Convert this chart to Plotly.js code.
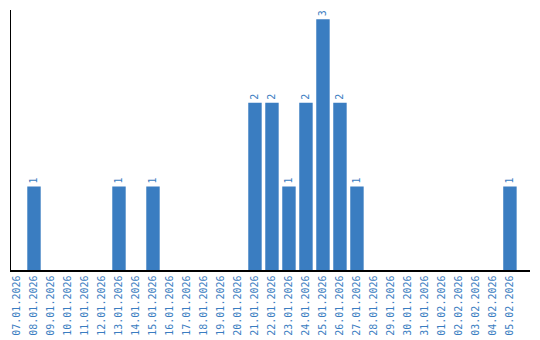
<!DOCTYPE html>
<html>
<head>
<meta charset="utf-8">
<script src="https://cdn.plot.ly/plotly-3.0.1.min.js"></script>
<style>html,body{margin:0;padding:0;background:#fff;}#chart{width:540px;height:340px;}</style>
</head>
<body>
<div id="chart"></div>
<script>
const dates = ["07.01.2026","08.01.2026","09.01.2026","10.01.2026","11.01.2026","12.01.2026","13.01.2026","14.01.2026","15.01.2026","16.01.2026","17.01.2026","18.01.2026","19.01.2026","20.01.2026","21.01.2026","22.01.2026","23.01.2026","24.01.2026","25.01.2026","26.01.2026","27.01.2026","28.01.2026","29.01.2026","30.01.2026","31.01.2026","01.02.2026","02.02.2026","03.02.2026","04.02.2026","05.02.2026"];
const counts = [0,1,0,0,0,0,1,0,1,0,0,0,0,0,2,2,1,2,3,2,1,0,0,0,0,0,0,0,0,1];
const labels = counts.map(v => v > 0 ? String(v) : "");
const blue = "#3a7dc1";
Plotly.newPlot("chart", [{
  type: "bar",
  x: dates,
  y: counts,
  marker: {color: blue},
  text: labels,
  textposition: "outside",
  textangle: -90,
  textfont: {family: "DejaVu Sans Mono", size: 10, color: blue},
  cliponaxis: false,
  hoverinfo: "none"
}], {
  width: 540, height: 340,
  margin: {l: 11, r: 10, t: 10, b: 70},
  paper_bgcolor: "#fff", plot_bgcolor: "#fff",
  bargap: 0.21,
  showlegend: false,
  xaxis: {
    type: "category",
    range: [-0.353, 30.18],
    showline: true, linecolor: "#000", linewidth: 1.5,
    showgrid: false, zeroline: false, ticks: "",
    tickangle: -90,
    tickfont: {family: "DejaVu Sans Mono", size: 10, color: blue}
  },
  yaxis: {
    range: [0, 3.11],
    showline: true, linecolor: "#000", linewidth: 1.5,
    showgrid: false, zeroline: false, ticks: "", showticklabels: false
  }
}, {staticPlot: true});
</script>
</body>
</html>
